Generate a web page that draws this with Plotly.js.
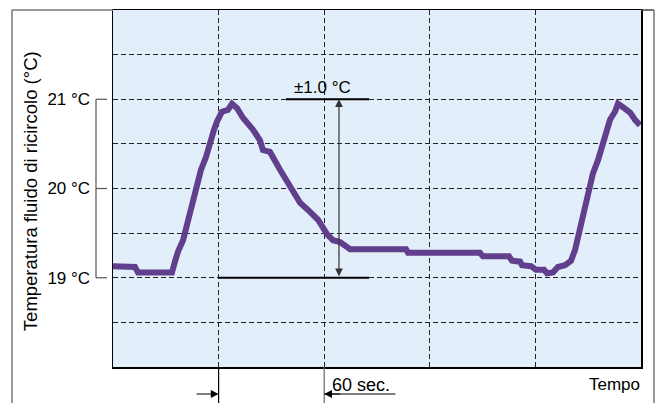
<!DOCTYPE html>
<html>
<head>
<meta charset="utf-8">
<script src="https://cdn.plot.ly/plotly-3.0.1.min.js"></script>
<style>html,body{margin:0;padding:0;background:#fff}#chart{width:655px;height:403px}</style>
</head>
<body>
<div id="chart"></div>
<script>
// time in seconds
var timeSec = [0, 12.5, 14.2, 33.5, 35.2, 36.9, 39.8, 42.0, 43.8, 45.5, 47.7, 50.0, 52.8, 55.1, 57.4, 59.1, 61.9, 65.3, 67.6, 70.5, 73.9, 79.5, 83.5, 85.2, 89.2, 94.9, 100.6, 106.3, 110.8, 116.5, 121.6, 125.0, 129.0, 133.0, 134.7, 166.5, 167.6, 208.5, 210.2, 225.0, 226.7, 231.3, 232.4, 237.5, 240.3, 244.9, 246.6, 250.0, 252.8, 256.8, 260.2, 262.5, 264.2, 266.5, 268.2, 269.9, 271.0, 272.7, 275.6, 277.8, 279.5, 280.7, 282.4, 285.2, 286.9, 289.8, 293.8, 296.6, 299.4];
// temperature in °C
var tempC = [19.13, 19.12, 19.06, 19.06, 19.18, 19.29, 19.42, 19.60, 19.73, 19.87, 20.05, 20.21, 20.35, 20.53, 20.66, 20.75, 20.86, 20.88, 20.95, 20.90, 20.79, 20.66, 20.54, 20.43, 20.41, 20.21, 20.02, 19.84, 19.76, 19.65, 19.49, 19.42, 19.40, 19.34, 19.32, 19.32, 19.28, 19.28, 19.24, 19.24, 19.19, 19.18, 19.14, 19.13, 19.09, 19.09, 19.05, 19.06, 19.12, 19.14, 19.19, 19.31, 19.46, 19.65, 19.76, 19.90, 20.06, 20.17, 20.32, 20.46, 20.57, 20.69, 20.77, 20.86, 20.95, 20.91, 20.85, 20.77, 20.71];
var yTickVals = [19, 20, 21];
var yTickText = ["19 °C", "20 °C", "21 °C"];
var bandLow = 19, bandHigh = 21;
var markStart = 60, markEnd = 120;
var bandLabel = "±1.0 °C";
var periodLabel = "60 sec.";

var FONT = "Liberation Sans, Arial, Helvetica, sans-serif";
var gridDash = "5px,3px";
var GRID = '#222';

var trace = {
  x: timeSec, y: tempC, type: 'scatter', mode: 'lines',
  line: {color: '#623f8c', width: 6, shape: 'linear'},
  hoverinfo: 'skip'
};

var bx = -0.0322, bx2 = -0.0114;
var shapes = [
  // bracket on y axis
  {type:'line', xref:'paper', yref:'y', x0:bx, x1:bx, y0:19, y1:21, line:{color:'#555', width:1.2}},
  {type:'line', xref:'paper', yref:'y', x0:bx, x1:bx2, y0:19, y1:19, line:{color:'#555', width:1.2}},
  {type:'line', xref:'paper', yref:'y', x0:bx, x1:bx2, y0:20, y1:20, line:{color:'#555', width:1.2}},
  {type:'line', xref:'paper', yref:'y', x0:bx, x1:bx2, y0:21, y1:21, line:{color:'#555', width:1.2}},
  // band lines
  {type:'line', xref:'x', yref:'y', x0:98.3, x1:145.5, y0:bandHigh, y1:bandHigh, line:{color:'#000', width:2}},
  {type:'line', xref:'x', yref:'y', x0:markStart, x1:145.5, y0:bandLow, y1:bandLow, line:{color:'#000', width:2}},
  // period markers
  {type:'line', xref:'x', yref:'paper', x0:markStart, x1:markStart, y0:0, y1:-0.105, line:{color:'#000', width:1.2}},
  {type:'line', xref:'x', yref:'paper', x0:markEnd, x1:markEnd, y0:0, y1:-0.105, line:{color:'#666', width:1.2}},
  {type:'line', xref:'x', yref:'paper', x0:markEnd, x1:160.5, y0:-0.0756, y1:-0.0756, line:{color:'#000', width:1.2}},
  // outer frame
  {type:'line', xref:'paper', yref:'paper', x0:-0.1913, x1:0, y0:1, y1:1, line:{color:'#777', width:1.5}},
  {type:'line', xref:'paper', yref:'paper', x0:-0.1913, x1:-0.1913, y0:1, y1:-0.11, line:{color:'#777', width:1.5}},
  {type:'line', xref:'paper', yref:'paper', x0:1, x1:1.0246, y0:1, y1:1, line:{color:'#444', width:1.5}},
  {type:'line', xref:'paper', yref:'paper', x0:1.0246, x1:1.0246, y0:1, y1:-0.11, line:{color:'#777', width:1.5}}
];

var annotations = [
  {xref:'x', yref:'y', x:128.4, y:bandHigh, ax:128.4, ay:bandLow, axref:'x', ayref:'y',
   text:'', showarrow:true, arrowhead:2, startarrowhead:2, arrowside:'end+start', arrowsize:1.3, arrowwidth:1.2, arrowcolor:'#333', standoff:0, startstandoff:0},
  {xref:'x', yref:'y', x:101.5, y:bandHigh, yshift:12, text:bandLabel, showarrow:false, xanchor:'left', yanchor:'middle', font:{family:FONT, size:17, color:'#000'}},
  {xref:'x', yref:'paper', x:markStart, y:-0.0756, ax:46.6, ay:-0.0756, axref:'x', ayref:'paper',
   text:'', showarrow:true, arrowhead:2, arrowsize:1.3, arrowwidth:1.2, arrowcolor:'#000', standoff:0},
  {xref:'x', yref:'paper', x:markEnd, y:-0.0756, ax:130, ay:-0.0756, axref:'x', ayref:'paper',
   text:'', showarrow:true, arrowhead:2, arrowsize:1.3, arrowwidth:1.2, arrowcolor:'#000', standoff:0},
  {xref:'x', yref:'paper', x:123.5, y:-0.05, text:periodLabel, showarrow:false, xanchor:'left', yanchor:'middle', font:{family:FONT, size:18, color:'#000'}},
  {xref:'paper', yref:'paper', x:1.002, y:-0.05, text:'Tempo', showarrow:false, xanchor:'right', yanchor:'middle', font:{family:FONT, size:17, color:'#000'}},
  {xref:'paper', yref:'paper', x:-0.155, y:0.493, text:'Temperatura fluido di ricircolo (°C)', textangle:-90, showarrow:false, xanchor:'center', yanchor:'middle', font:{family:FONT, size:18.5, color:'#000'}}
];

var layout = {
  width: 655, height: 403,
  margin: {l:113, r:14, t:10, b:36},
  paper_bgcolor: '#ffffff', plot_bgcolor: '#e2eefa',
  showlegend: false,
  font: {family: FONT, size: 16, color: '#000'},
  xaxis: {
    range: [0, 300], tick0: 0, dtick: 60, showticklabels: false, ticks: '',
    showgrid: true, gridcolor: GRID, gridwidth: 1, griddash: gridDash,
    zeroline: false, showline: true, linecolor: '#000', linewidth: 1.5, mirror: true, fixedrange: true
  },
  yaxis: {
    range: [18, 22], tickvals: yTickVals, ticktext: yTickText, ticks: '',
    ticklabelstandoff: 18,
    tickfont: {family: FONT, size: 17, color: '#000'},
    showgrid: true, gridcolor: GRID, gridwidth: 1, griddash: gridDash,
    minor: {dtick: 0.5, tick0: 0, showgrid: true, gridcolor: GRID, gridwidth: 1, griddash: gridDash, ticks: ''},
    zeroline: false, showline: true, linecolor: '#000', linewidth: 1.5, mirror: true, fixedrange: true
  },
  shapes: shapes,
  annotations: annotations
};

Plotly.newPlot('chart', [trace], layout, {displayModeBar: false, staticPlot: true});
</script>
</body>
</html>
